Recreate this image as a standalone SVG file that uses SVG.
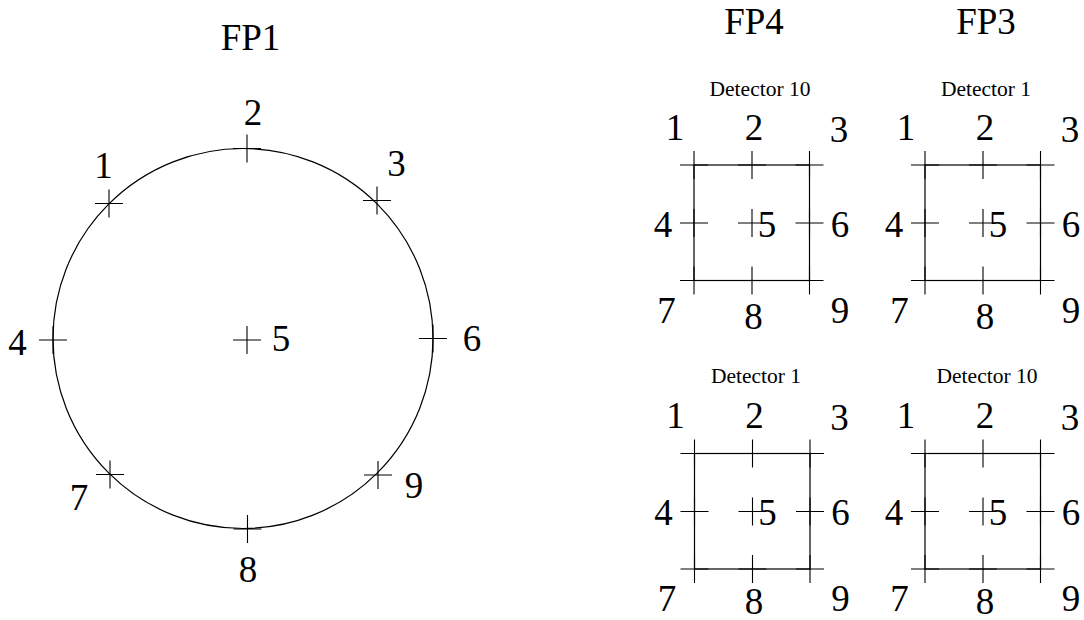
<svg xmlns="http://www.w3.org/2000/svg" xmlns:xlink="http://www.w3.org/1999/xlink" width="1084" height="620" viewBox="0 0 1084 620">
<style>
  .t { font-family: "Liberation Serif", "Times New Roman", serif; fill: #000; text-anchor: middle; }
  .big { font-size: 37px; }
  .det { font-size: 21.5px; }
  .ln { fill: none; stroke: #000; stroke-width: 1.2; }
  .cr { fill: none; stroke: #000; stroke-width: 1.1; }
</style>
<defs>
  <path id="cross" d="M-14,0H14M0,-14V14"/>
</defs>
<rect width="1084" height="620" fill="#fff"/>

<g id="fp1">
  <text class="t big" x="250.5" y="50">FP1</text>
  <circle class="ln" cx="243" cy="338.5" r="190"/>
  <g class="cr">
    <use xlink:href="#cross" x="109" y="203.5"/>
    <use xlink:href="#cross" x="247" y="148.5"/>
    <use xlink:href="#cross" x="377" y="200.5"/>
    <use xlink:href="#cross" x="53" y="340"/>
    <use xlink:href="#cross" x="247" y="340"/>
    <use xlink:href="#cross" x="433" y="338.5"/>
    <use xlink:href="#cross" x="110" y="474.5"/>
    <use xlink:href="#cross" x="247.5" y="529"/>
    <use xlink:href="#cross" x="378" y="475"/>
  </g>
  <text class="t big" x="103.5" y="177.5">1</text>
  <text class="t big" x="253" y="125">2</text>
  <text class="t big" x="396.5" y="176">3</text>
  <text class="t big" x="17.5" y="355">4</text>
  <text class="t big" x="281" y="351">5</text>
  <text class="t big" x="472" y="351">6</text>
  <text class="t big" x="79" y="510">7</text>
  <text class="t big" x="248" y="582">8</text>
  <text class="t big" x="414" y="498">9</text>
</g>

<text id="title-fp4" class="t big" x="754" y="33.5">FP4</text>
<text id="title-fp3" class="t big" x="986" y="33.5">FP3</text>

<g id="fp4-detector10">
  <text class="t det" x="760" y="96">Detector 10</text>
  <rect class="ln" x="694" y="165" width="115.5" height="115.5"/>
  <g class="cr">
    <use xlink:href="#cross" x="694" y="165"/>
    <use xlink:href="#cross" x="752" y="165"/>
    <use xlink:href="#cross" x="809.5" y="165"/>
    <use xlink:href="#cross" x="694" y="223"/>
    <use xlink:href="#cross" x="752" y="223"/>
    <use xlink:href="#cross" x="809.5" y="223"/>
    <use xlink:href="#cross" x="694" y="280.5"/>
    <use xlink:href="#cross" x="752" y="280.5"/>
    <use xlink:href="#cross" x="809.5" y="280.5"/>
  </g>
  <text class="t big" x="675" y="140">1</text>
  <text class="t big" x="754" y="140">2</text>
  <text class="t big" x="839" y="141.5">3</text>
  <text class="t big" x="663" y="236.5">4</text>
  <text class="t big" x="767" y="236.5">5</text>
  <text class="t big" x="840" y="236.5">6</text>
  <text class="t big" x="666.5" y="323">7</text>
  <text class="t big" x="753.5" y="329">8</text>
  <text class="t big" x="840" y="323">9</text>
</g>

<g id="fp3-detector1">
  <text class="t det" x="986" y="96">Detector 1</text>
  <rect class="ln" x="925" y="165" width="115.5" height="115.5"/>
  <g class="cr">
    <use xlink:href="#cross" x="925" y="165"/>
    <use xlink:href="#cross" x="983" y="165"/>
    <use xlink:href="#cross" x="1040.5" y="165"/>
    <use xlink:href="#cross" x="925" y="223"/>
    <use xlink:href="#cross" x="983" y="223"/>
    <use xlink:href="#cross" x="1040.5" y="223"/>
    <use xlink:href="#cross" x="925" y="280.5"/>
    <use xlink:href="#cross" x="983" y="280.5"/>
    <use xlink:href="#cross" x="1040.5" y="280.5"/>
  </g>
  <text class="t big" x="906" y="140">1</text>
  <text class="t big" x="985" y="140">2</text>
  <text class="t big" x="1070" y="141.5">3</text>
  <text class="t big" x="894" y="236.5">4</text>
  <text class="t big" x="998" y="236.5">5</text>
  <text class="t big" x="1071" y="236.5">6</text>
  <text class="t big" x="899.5" y="323">7</text>
  <text class="t big" x="985" y="329">8</text>
  <text class="t big" x="1071" y="323">9</text>
</g>

<g id="fp4-detector1">
  <text class="t det" x="756" y="383">Detector 1</text>
  <rect class="ln" x="694.5" y="453.5" width="115.5" height="115.5"/>
  <g class="cr">
    <use xlink:href="#cross" x="694.5" y="453.5"/>
    <use xlink:href="#cross" x="752.5" y="453.5"/>
    <use xlink:href="#cross" x="810" y="453.5"/>
    <use xlink:href="#cross" x="694.5" y="511.5"/>
    <use xlink:href="#cross" x="752.5" y="511.5"/>
    <use xlink:href="#cross" x="810" y="511.5"/>
    <use xlink:href="#cross" x="694.5" y="569"/>
    <use xlink:href="#cross" x="752.5" y="569"/>
    <use xlink:href="#cross" x="810" y="569"/>
  </g>
  <text class="t big" x="675.5" y="428">1</text>
  <text class="t big" x="754.5" y="428">2</text>
  <text class="t big" x="839.5" y="429.5">3</text>
  <text class="t big" x="663.5" y="524.5">4</text>
  <text class="t big" x="767.5" y="524.5">5</text>
  <text class="t big" x="840.5" y="524.5">6</text>
  <text class="t big" x="667" y="611">7</text>
  <text class="t big" x="754" y="614">8</text>
  <text class="t big" x="840.5" y="611">9</text>
</g>

<g id="fp3-detector10">
  <text class="t det" x="987" y="383">Detector 10</text>
  <rect class="ln" x="925" y="453.5" width="115.5" height="115.5"/>
  <g class="cr">
    <use xlink:href="#cross" x="925" y="453.5"/>
    <use xlink:href="#cross" x="983" y="453.5"/>
    <use xlink:href="#cross" x="1040.5" y="453.5"/>
    <use xlink:href="#cross" x="925" y="511.5"/>
    <use xlink:href="#cross" x="983" y="511.5"/>
    <use xlink:href="#cross" x="1040.5" y="511.5"/>
    <use xlink:href="#cross" x="925" y="569"/>
    <use xlink:href="#cross" x="983" y="569"/>
    <use xlink:href="#cross" x="1040.5" y="569"/>
  </g>
  <text class="t big" x="906" y="428">1</text>
  <text class="t big" x="985" y="428">2</text>
  <text class="t big" x="1070" y="429.5">3</text>
  <text class="t big" x="894" y="524.5">4</text>
  <text class="t big" x="998" y="524.5">5</text>
  <text class="t big" x="1071" y="524.5">6</text>
  <text class="t big" x="899.5" y="611">7</text>
  <text class="t big" x="985" y="614">8</text>
  <text class="t big" x="1071" y="611">9</text>
</g>
</svg>
